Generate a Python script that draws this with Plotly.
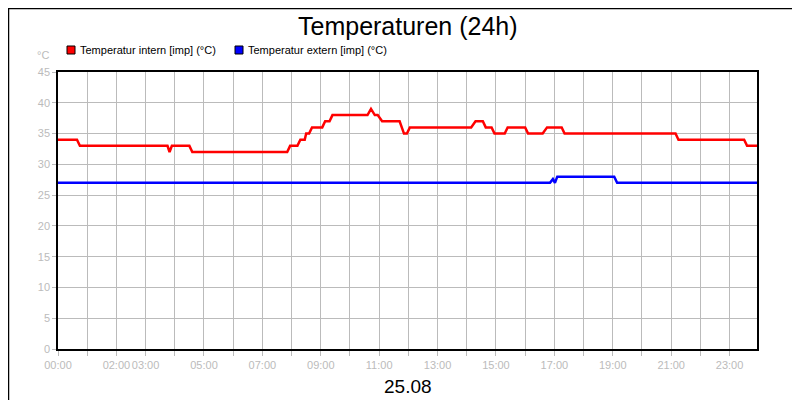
import plotly.graph_objects as go

# hours since 00:00
intern_t = [0, 0.65, 0.75, 3.75, 3.82, 3.9, 4.5, 4.6, 7.85, 7.95, 8.2, 8.3, 8.45, 8.5, 8.6, 8.7, 8.75, 9.05, 9.15, 9.3, 9.4, 10.6, 10.72, 10.85, 10.95, 11.1, 11.2, 11.7, 11.85, 11.95, 12.05, 14.15, 14.3, 14.55, 14.65, 14.85, 14.95, 15.3, 15.4, 16.0, 16.1, 16.6, 16.75, 17.25, 17.35, 21.15, 21.25, 23.5, 23.6, 23.94]
intern_v = [34, 34, 33, 33, 32, 33, 33, 32, 32, 33, 33, 34, 34, 35, 35, 36, 36, 36, 37, 37, 38, 38, 39, 38, 38, 37, 37, 37, 35, 35, 36, 36, 37, 37, 36, 36, 35, 35, 36, 36, 35, 35, 36, 36, 35, 35, 34, 34, 33, 33]
extern_t = [0, 16.85, 16.95, 17.02, 17.1, 19.05, 19.15, 23.94]
extern_v = [27, 27, 27.6, 27, 28, 28, 27, 27]

hours = list(range(0, 25))
tick_text = {0: "00:00", 2: "02:00", 3: "03:00", 5: "05:00", 7: "07:00", 9: "09:00",
             11: "11:00", 13: "13:00", 15: "15:00", 17: "17:00", 19: "19:00", 21: "21:00", 23: "23:00"}
y_ticks = list(range(0, 50, 5))
legend_names = ["Temperatur intern [imp] (°C)", "Temperatur extern [imp] (°C)"]
legend_colors = ["#ff0000", "#0000ff"]

W, H = 699, 277

fig = go.Figure()
fig.add_trace(go.Scatter(x=intern_t, y=intern_v, mode="lines", line=dict(color=legend_colors[0], width=2.5), showlegend=False))
fig.add_trace(go.Scatter(x=extern_t, y=extern_v, mode="lines", line=dict(color=legend_colors[1], width=2.5), showlegend=False))

annotations = [
    dict(text="Temperaturen (24h)", x=0.5, y=1 + 46 / H, xref="paper", yref="paper", showarrow=False,
         font=dict(size=25, color="black"), yanchor="middle"),
    dict(text="25.08", x=0.5, y=-37 / H, xref="paper", yref="paper", showarrow=False,
         font=dict(size=19, color="black"), yanchor="middle"),
    dict(text="°C", x=-7 / W, y=1 + 17 / H, xref="paper", yref="paper", showarrow=False,
         font=dict(size=11, color="#bbbbbb"), xanchor="right", yanchor="middle"),
]
shapes = [dict(type="rect", xref="paper", yref="paper", x0=-49.5 / W, x1=1 + 50.5 / W,
               y0=-58.5 / H, y1=1 + 63.5 / H, line=dict(color="black", width=1.5))]
for i, (name, c) in enumerate(zip(legend_names, legend_colors)):
    x0 = 59 + i * 168
    shapes.append(dict(type="rect", xref="paper", yref="paper", x0=(x0 - 50) / W, x1=(x0 - 42) / W,
                       y0=1 + 18 / H, y1=1 + 26 / H, fillcolor=c, line=dict(color="black", width=1)))
    annotations.append(dict(text=name, x=(x0 - 39) / W, y=1 + 22 / H, xref="paper", yref="paper",
                            showarrow=False, xanchor="left", yanchor="middle", font=dict(size=11, color="black")))

fig.update_layout(
    width=800, height=400, margin=dict(l=50, r=51, t=64, b=59, autoexpand=False),
    paper_bgcolor="white", plot_bgcolor="white", showlegend=False,
    font=dict(family="Liberation Sans, Arial", size=11, color="#bbbbbb"),
    xaxis=dict(range=[0, 23.94], tickvals=hours, ticktext=[tick_text.get(h, "") for h in hours], tickangle=0,
               showgrid=True, gridcolor="#bbbbbb", gridwidth=1, ticks="outside", ticklen=5, tickcolor="#bbbbbb",
               showline=True, linecolor="black", linewidth=1.5, mirror=True, zeroline=False),
    yaxis=dict(range=[0, 45], tickvals=y_ticks, showgrid=True, gridcolor="#bbbbbb", gridwidth=1,
               ticks="outside", ticklen=4, tickcolor="#bbbbbb",
               showline=True, linecolor="black", linewidth=1.5, mirror=True, zeroline=False),
    annotations=annotations,
    shapes=shapes,
)
fig.write_html("out.html")
